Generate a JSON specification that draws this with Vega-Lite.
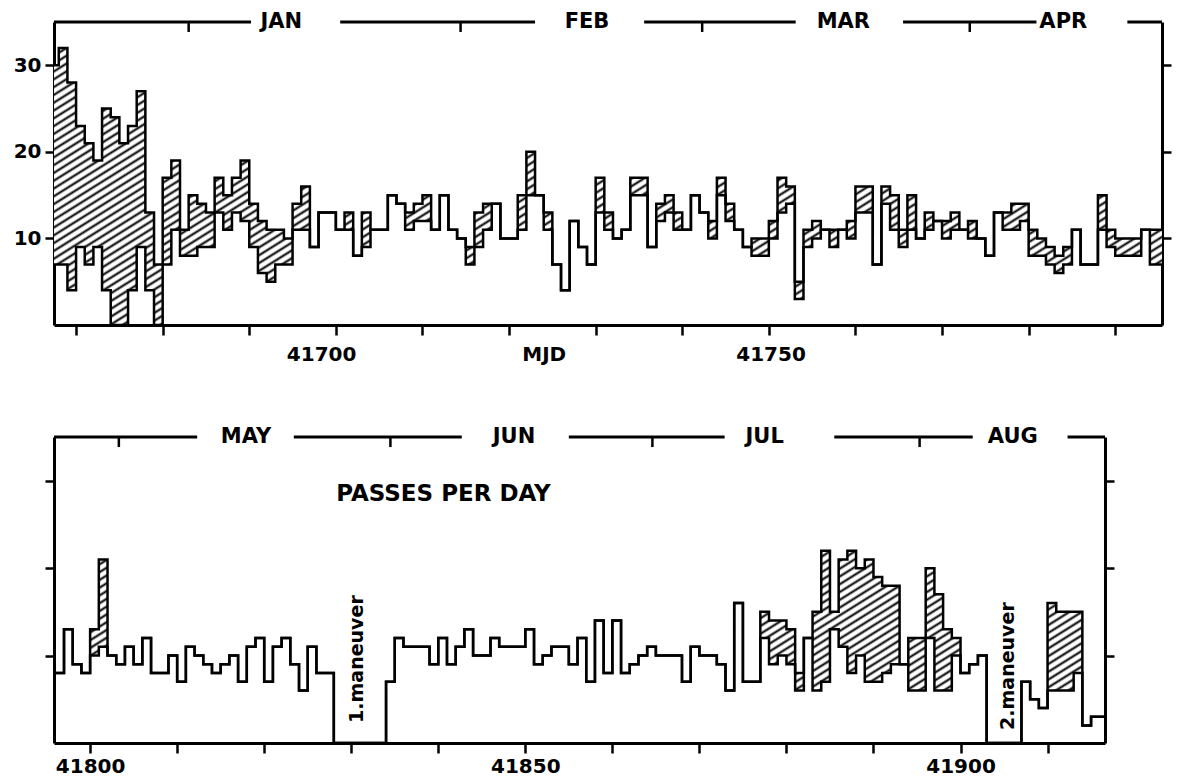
{
 "$schema": "https://vega.github.io/schema/vega-lite/v6.json",
 "background": "white",
 "padding": {"left": 13, "top": 11, "right": 5, "bottom": 0},
 "spacing": 62,
 "config": {
  "view": {"stroke": null},
  "font": "DejaVu Sans",
  "axis": {"domainColor": "black", "domainWidth": 3, "tickColor": "black", "tickWidth": 2.5, "tickSize": 9, "labelFont": "DejaVu Sans", "labelFontWeight": "bold", "labelFontSize": 20, "labelColor": "black", "grid": false, "title": null, "labelPadding": 4, "labelOverlap": false, "labelFlush": false}
 },
 "datasets": {
  "top": [
   {"mjd":41667,"lo":7,"hi":30},{"mjd":41668,"lo":7,"hi":32},{"mjd":41669,"lo":4,"hi":28},{"mjd":41670,"lo":9,"hi":23},{"mjd":41671,"lo":7,"hi":21},{"mjd":41672,"lo":9,"hi":19},{"mjd":41673,"lo":4,"hi":25},{"mjd":41674,"lo":0,"hi":24},{"mjd":41675,"lo":0,"hi":21},{"mjd":41676,"lo":4,"hi":23},{"mjd":41677,"lo":9,"hi":27},{"mjd":41678,"lo":4,"hi":13},{"mjd":41679,"lo":0,"hi":7},{"mjd":41680,"lo":7,"hi":17},{"mjd":41681,"lo":11,"hi":19},{"mjd":41682,"lo":8,"hi":11},{"mjd":41683,"lo":8,"hi":15},{"mjd":41684,"lo":9,"hi":14},{"mjd":41685,"lo":9,"hi":13},{"mjd":41686,"lo":13,"hi":17},{"mjd":41687,"lo":11,"hi":15},{"mjd":41688,"lo":13,"hi":17},{"mjd":41689,"lo":12,"hi":19},{"mjd":41690,"lo":9,"hi":14},{"mjd":41691,"lo":6,"hi":12},{"mjd":41692,"lo":5,"hi":11},{"mjd":41693,"lo":7,"hi":11},{"mjd":41694,"lo":7,"hi":10},{"mjd":41695,"lo":11,"hi":14},{"mjd":41696,"lo":11,"hi":16},{"mjd":41697,"lo":9,"hi":9},{"mjd":41698,"lo":13,"hi":13},{"mjd":41699,"lo":13,"hi":13},{"mjd":41700,"lo":11,"hi":11},{"mjd":41701,"lo":11,"hi":13},{"mjd":41702,"lo":8,"hi":8},{"mjd":41703,"lo":9,"hi":13},{"mjd":41704,"lo":11,"hi":11},{"mjd":41705,"lo":11,"hi":11},{"mjd":41706,"lo":15,"hi":15},{"mjd":41707,"lo":14,"hi":14},{"mjd":41708,"lo":11,"hi":13},{"mjd":41709,"lo":12,"hi":14},{"mjd":41710,"lo":12,"hi":15},{"mjd":41711,"lo":11,"hi":11},{"mjd":41712,"lo":15,"hi":15},{"mjd":41713,"lo":11,"hi":11},{"mjd":41714,"lo":10,"hi":10},{"mjd":41715,"lo":7,"hi":9},{"mjd":41716,"lo":9,"hi":13},{"mjd":41717,"lo":11,"hi":14},{"mjd":41718,"lo":14,"hi":14},{"mjd":41719,"lo":10,"hi":10},{"mjd":41720,"lo":10,"hi":10},{"mjd":41721,"lo":11,"hi":15},{"mjd":41722,"lo":15,"hi":20},{"mjd":41723,"lo":15,"hi":15},{"mjd":41724,"lo":11,"hi":13},{"mjd":41725,"lo":7,"hi":7},{"mjd":41726,"lo":4,"hi":4},{"mjd":41727,"lo":12,"hi":12},{"mjd":41728,"lo":9,"hi":9},{"mjd":41729,"lo":7,"hi":7},{"mjd":41730,"lo":13,"hi":17},{"mjd":41731,"lo":11,"hi":13},{"mjd":41732,"lo":10,"hi":10},{"mjd":41733,"lo":11,"hi":11},{"mjd":41734,"lo":15,"hi":17},{"mjd":41735,"lo":15,"hi":17},{"mjd":41736,"lo":9,"hi":9},{"mjd":41737,"lo":12,"hi":14},{"mjd":41738,"lo":13,"hi":15},{"mjd":41739,"lo":11,"hi":13},{"mjd":41740,"lo":11,"hi":11},{"mjd":41741,"lo":15,"hi":15},{"mjd":41742,"lo":13,"hi":13},{"mjd":41743,"lo":10,"hi":12},{"mjd":41744,"lo":15,"hi":17},{"mjd":41745,"lo":12,"hi":14},{"mjd":41746,"lo":11,"hi":11},{"mjd":41747,"lo":9,"hi":9},{"mjd":41748,"lo":8,"hi":10},{"mjd":41749,"lo":8,"hi":10},{"mjd":41750,"lo":10,"hi":12},{"mjd":41751,"lo":13,"hi":17},{"mjd":41752,"lo":14,"hi":16},{"mjd":41753,"lo":3,"hi":5},{"mjd":41754,"lo":9,"hi":11},{"mjd":41755,"lo":10,"hi":12},{"mjd":41756,"lo":11,"hi":11},{"mjd":41757,"lo":9,"hi":11},{"mjd":41758,"lo":11,"hi":11},{"mjd":41759,"lo":10,"hi":12},{"mjd":41760,"lo":13,"hi":16},{"mjd":41761,"lo":13,"hi":16},{"mjd":41762,"lo":7,"hi":7},{"mjd":41763,"lo":14,"hi":16},{"mjd":41764,"lo":11,"hi":15},{"mjd":41765,"lo":9,"hi":11},{"mjd":41766,"lo":11,"hi":15},{"mjd":41767,"lo":10,"hi":10},{"mjd":41768,"lo":11,"hi":13},{"mjd":41769,"lo":12,"hi":12},{"mjd":41770,"lo":10,"hi":12},{"mjd":41771,"lo":11,"hi":13},{"mjd":41772,"lo":11,"hi":11},{"mjd":41773,"lo":10,"hi":12},{"mjd":41774,"lo":10,"hi":10},{"mjd":41775,"lo":8,"hi":8},{"mjd":41776,"lo":13,"hi":13},{"mjd":41777,"lo":11,"hi":13},{"mjd":41778,"lo":11,"hi":14},{"mjd":41779,"lo":12,"hi":14},{"mjd":41780,"lo":8,"hi":11},{"mjd":41781,"lo":8,"hi":10},{"mjd":41782,"lo":7,"hi":9},{"mjd":41783,"lo":6,"hi":8},{"mjd":41784,"lo":7,"hi":9},{"mjd":41785,"lo":11,"hi":11},{"mjd":41786,"lo":7,"hi":7},{"mjd":41787,"lo":7,"hi":7},{"mjd":41788,"lo":11,"hi":15},{"mjd":41789,"lo":9,"hi":11},{"mjd":41790,"lo":8,"hi":10},{"mjd":41791,"lo":8,"hi":10},{"mjd":41792,"lo":8,"hi":10},{"mjd":41793,"lo":11,"hi":11},{"mjd":41794,"lo":7,"hi":11},{"mjd":41795,"lo":7,"hi":11},{"mjd":41796,"lo":7,"hi":11}
  ],
  "bottom": [
   {"mjd":41796,"lo":8,"hi":8},{"mjd":41797,"lo":13,"hi":13},{"mjd":41798,"lo":9,"hi":9},{"mjd":41799,"lo":8,"hi":8},{"mjd":41800,"lo":10,"hi":13},{"mjd":41801,"lo":11,"hi":21},{"mjd":41802,"lo":10,"hi":10},{"mjd":41803,"lo":9,"hi":9},{"mjd":41804,"lo":11,"hi":11},{"mjd":41805,"lo":9,"hi":9},{"mjd":41806,"lo":12,"hi":12},{"mjd":41807,"lo":8,"hi":8},{"mjd":41808,"lo":8,"hi":8},{"mjd":41809,"lo":10,"hi":10},{"mjd":41810,"lo":7,"hi":7},{"mjd":41811,"lo":11,"hi":11},{"mjd":41812,"lo":10,"hi":10},{"mjd":41813,"lo":9,"hi":9},{"mjd":41814,"lo":8,"hi":8},{"mjd":41815,"lo":9,"hi":9},{"mjd":41816,"lo":10,"hi":10},{"mjd":41817,"lo":7,"hi":7},{"mjd":41818,"lo":11,"hi":11},{"mjd":41819,"lo":12,"hi":12},{"mjd":41820,"lo":7,"hi":7},{"mjd":41821,"lo":11,"hi":11},{"mjd":41822,"lo":12,"hi":12},{"mjd":41823,"lo":9,"hi":9},{"mjd":41824,"lo":6,"hi":6},{"mjd":41825,"lo":11,"hi":11},{"mjd":41826,"lo":8,"hi":8},{"mjd":41827,"lo":8,"hi":8},{"mjd":41828,"lo":0,"hi":0},{"mjd":41829,"lo":0,"hi":0},{"mjd":41830,"lo":0,"hi":0},{"mjd":41831,"lo":0,"hi":0},{"mjd":41832,"lo":0,"hi":0},{"mjd":41833,"lo":0,"hi":0},{"mjd":41834,"lo":7,"hi":7},{"mjd":41835,"lo":12,"hi":12},{"mjd":41836,"lo":11,"hi":11},{"mjd":41837,"lo":11,"hi":11},{"mjd":41838,"lo":11,"hi":11},{"mjd":41839,"lo":9,"hi":9},{"mjd":41840,"lo":12,"hi":12},{"mjd":41841,"lo":9,"hi":9},{"mjd":41842,"lo":11,"hi":11},{"mjd":41843,"lo":13,"hi":13},{"mjd":41844,"lo":10,"hi":10},{"mjd":41845,"lo":10,"hi":10},{"mjd":41846,"lo":12,"hi":12},{"mjd":41847,"lo":11,"hi":11},{"mjd":41848,"lo":11,"hi":11},{"mjd":41849,"lo":11,"hi":11},{"mjd":41850,"lo":13,"hi":13},{"mjd":41851,"lo":9,"hi":9},{"mjd":41852,"lo":10,"hi":10},{"mjd":41853,"lo":11,"hi":11},{"mjd":41854,"lo":11,"hi":11},{"mjd":41855,"lo":9,"hi":9},{"mjd":41856,"lo":12,"hi":12},{"mjd":41857,"lo":7,"hi":7},{"mjd":41858,"lo":14,"hi":14},{"mjd":41859,"lo":8,"hi":8},{"mjd":41860,"lo":14,"hi":14},{"mjd":41861,"lo":8,"hi":8},{"mjd":41862,"lo":9,"hi":9},{"mjd":41863,"lo":10,"hi":10},{"mjd":41864,"lo":11,"hi":11},{"mjd":41865,"lo":10,"hi":10},{"mjd":41866,"lo":10,"hi":10},{"mjd":41867,"lo":10,"hi":10},{"mjd":41868,"lo":7,"hi":7},{"mjd":41869,"lo":11,"hi":11},{"mjd":41870,"lo":10,"hi":10},{"mjd":41871,"lo":10,"hi":10},{"mjd":41872,"lo":9,"hi":9},{"mjd":41873,"lo":6,"hi":6},{"mjd":41874,"lo":16,"hi":16},{"mjd":41875,"lo":7,"hi":7},{"mjd":41876,"lo":7,"hi":7},{"mjd":41877,"lo":12,"hi":15},{"mjd":41878,"lo":9,"hi":14},{"mjd":41879,"lo":10,"hi":14},{"mjd":41880,"lo":9,"hi":13},{"mjd":41881,"lo":6,"hi":8},{"mjd":41882,"lo":12,"hi":12},{"mjd":41883,"lo":6,"hi":15},{"mjd":41884,"lo":7,"hi":22},{"mjd":41885,"lo":13,"hi":15},{"mjd":41886,"lo":11,"hi":21},{"mjd":41887,"lo":8,"hi":22},{"mjd":41888,"lo":10,"hi":20},{"mjd":41889,"lo":7,"hi":21},{"mjd":41890,"lo":7,"hi":19},{"mjd":41891,"lo":8,"hi":18},{"mjd":41892,"lo":9,"hi":18},{"mjd":41893,"lo":9,"hi":9},{"mjd":41894,"lo":6,"hi":12},{"mjd":41895,"lo":6,"hi":12},{"mjd":41896,"lo":12,"hi":20},{"mjd":41897,"lo":6,"hi":17},{"mjd":41898,"lo":6,"hi":13},{"mjd":41899,"lo":10,"hi":12},{"mjd":41900,"lo":8,"hi":8},{"mjd":41901,"lo":9,"hi":9},{"mjd":41902,"lo":10,"hi":10},{"mjd":41903,"lo":0,"hi":0},{"mjd":41904,"lo":0,"hi":0},{"mjd":41905,"lo":0,"hi":0},{"mjd":41906,"lo":0,"hi":0},{"mjd":41907,"lo":7,"hi":7},{"mjd":41908,"lo":5,"hi":5},{"mjd":41909,"lo":4,"hi":4},{"mjd":41910,"lo":6,"hi":16},{"mjd":41911,"lo":6,"hi":15},{"mjd":41912,"lo":6,"hi":15},{"mjd":41913,"lo":8,"hi":15},{"mjd":41914,"lo":2,"hi":2},{"mjd":41915,"lo":3,"hi":3},{"mjd":41916,"lo":3,"hi":3},{"mjd":41917,"lo":3,"hi":3}
  ],
  "topseg": [{"mjd":41667.45,"mjd2":41690.2},{"mjd":41700.5,"mjd2":41723.0},{"mjd":41735.6,"mjd2":41753.1},{"mjd":41765.5,"mjd2":41780.9},{"mjd":41791.4,"mjd2":41795.4}],
  "topmt": [{"mjd":41683},{"mjd":41714.4},{"mjd":41742.3},{"mjd":41773.2}],
  "topmon": [{"m":"JAN","mjd":41693.7},{"m":"FEB","mjd":41729.0},{"m":"MAR","mjd":41758.6},{"m":"APR","mjd":41784.0}],
  "botseg": [{"mjd":41795.85,"mjd2":41812.3},{"mjd":41823.4,"mjd2":41842.7},{"mjd":41855.0,"mjd2":41872.9},{"mjd":41885.5,"mjd2":41901.4},{"mjd":41912.3,"mjd2":41916.6}],
  "botmt": [{"mjd":41803.3},{"mjd":41834.5},{"mjd":41864.6},{"mjd":41895.3}],
  "botmon": [{"m":"MAY","mjd":41817.9},{"m":"JUN","mjd":41848.7},{"m":"JUL","mjd":41877.5},{"m":"AUG","mjd":41906.0}],
  "note": [{"t":"PASSES PER DAY","mjd":41840.6,"v":28.5}],
  "man": [{"t":"1.maneuver","mjd":41830.7,"v":9.6},{"t":"2.maneuver","mjd":41905.4,"v":8.8}]
 },
 "vconcat": [
  {
   "width": 1108,
   "height": 303,
   "resolve": {"axis": {"x": "independent", "y": "independent"}},
   "layer": [
    {
     "data": {"name": "top"},
     "mark": {"type": "area", "interpolate": "step-after", "clip": true, "fill": {"gradient": "linear", "x1": 0, "y1": 0, "x2": 1.2066, "y2": 0.4786, "stops": [
{"offset":0,"color":"#fff"},
{"offset":0.0025,"color":"#000"},{"offset":0.005,"color":"#fff"},{"offset":0.008,"color":"#fff"},
{"offset":0.0105,"color":"#000"},{"offset":0.013,"color":"#fff"},{"offset":0.016,"color":"#fff"},
{"offset":0.0185,"color":"#000"},{"offset":0.021,"color":"#fff"},{"offset":0.024,"color":"#fff"},
{"offset":0.0265,"color":"#000"},{"offset":0.029,"color":"#fff"},{"offset":0.032,"color":"#fff"},
{"offset":0.0345,"color":"#000"},{"offset":0.037,"color":"#fff"},{"offset":0.040,"color":"#fff"},
{"offset":0.0425,"color":"#000"},{"offset":0.045,"color":"#fff"},{"offset":0.048,"color":"#fff"},
{"offset":0.0505,"color":"#000"},{"offset":0.053,"color":"#fff"},{"offset":0.056,"color":"#fff"},
{"offset":0.0585,"color":"#000"},{"offset":0.061,"color":"#fff"},{"offset":0.064,"color":"#fff"},
{"offset":0.0665,"color":"#000"},{"offset":0.069,"color":"#fff"},{"offset":0.072,"color":"#fff"},
{"offset":0.0745,"color":"#000"},{"offset":0.077,"color":"#fff"},{"offset":0.080,"color":"#fff"},
{"offset":0.0825,"color":"#000"},{"offset":0.085,"color":"#fff"},{"offset":0.088,"color":"#fff"},
{"offset":0.0905,"color":"#000"},{"offset":0.093,"color":"#fff"},{"offset":0.096,"color":"#fff"},
{"offset":0.0985,"color":"#000"},{"offset":0.101,"color":"#fff"},{"offset":0.104,"color":"#fff"},
{"offset":0.1065,"color":"#000"},{"offset":0.109,"color":"#fff"},{"offset":0.112,"color":"#fff"},
{"offset":0.1145,"color":"#000"},{"offset":0.117,"color":"#fff"},{"offset":0.120,"color":"#fff"},
{"offset":0.1225,"color":"#000"},{"offset":0.125,"color":"#fff"},{"offset":0.128,"color":"#fff"},
{"offset":0.1305,"color":"#000"},{"offset":0.133,"color":"#fff"},{"offset":0.136,"color":"#fff"},
{"offset":0.1385,"color":"#000"},{"offset":0.141,"color":"#fff"},{"offset":0.144,"color":"#fff"},
{"offset":0.1465,"color":"#000"},{"offset":0.149,"color":"#fff"},{"offset":0.152,"color":"#fff"},
{"offset":0.1545,"color":"#000"},{"offset":0.157,"color":"#fff"},{"offset":0.160,"color":"#fff"},
{"offset":0.1625,"color":"#000"},{"offset":0.165,"color":"#fff"},{"offset":0.168,"color":"#fff"},
{"offset":0.1705,"color":"#000"},{"offset":0.173,"color":"#fff"},{"offset":0.176,"color":"#fff"},
{"offset":0.1785,"color":"#000"},{"offset":0.181,"color":"#fff"},{"offset":0.184,"color":"#fff"},
{"offset":0.1865,"color":"#000"},{"offset":0.189,"color":"#fff"},{"offset":0.192,"color":"#fff"},
{"offset":0.1945,"color":"#000"},{"offset":0.197,"color":"#fff"},{"offset":0.200,"color":"#fff"},
{"offset":0.2025,"color":"#000"},{"offset":0.205,"color":"#fff"},{"offset":0.208,"color":"#fff"},
{"offset":0.2105,"color":"#000"},{"offset":0.213,"color":"#fff"},{"offset":0.216,"color":"#fff"},
{"offset":0.2185,"color":"#000"},{"offset":0.221,"color":"#fff"},{"offset":0.224,"color":"#fff"},
{"offset":0.2265,"color":"#000"},{"offset":0.229,"color":"#fff"},{"offset":0.232,"color":"#fff"},
{"offset":0.2345,"color":"#000"},{"offset":0.237,"color":"#fff"},{"offset":0.240,"color":"#fff"},
{"offset":0.2425,"color":"#000"},{"offset":0.245,"color":"#fff"},{"offset":0.248,"color":"#fff"},
{"offset":0.2505,"color":"#000"},{"offset":0.253,"color":"#fff"},{"offset":0.256,"color":"#fff"},
{"offset":0.2585,"color":"#000"},{"offset":0.261,"color":"#fff"},{"offset":0.264,"color":"#fff"},
{"offset":0.2665,"color":"#000"},{"offset":0.269,"color":"#fff"},{"offset":0.272,"color":"#fff"},
{"offset":0.2745,"color":"#000"},{"offset":0.277,"color":"#fff"},{"offset":0.280,"color":"#fff"},
{"offset":0.2825,"color":"#000"},{"offset":0.285,"color":"#fff"},{"offset":0.288,"color":"#fff"},
{"offset":0.2905,"color":"#000"},{"offset":0.293,"color":"#fff"},{"offset":0.296,"color":"#fff"},
{"offset":0.2985,"color":"#000"},{"offset":0.301,"color":"#fff"},{"offset":0.304,"color":"#fff"},
{"offset":0.3065,"color":"#000"},{"offset":0.309,"color":"#fff"},{"offset":0.312,"color":"#fff"},
{"offset":0.3145,"color":"#000"},{"offset":0.317,"color":"#fff"},{"offset":0.320,"color":"#fff"},
{"offset":0.3225,"color":"#000"},{"offset":0.325,"color":"#fff"},{"offset":0.328,"color":"#fff"},
{"offset":0.3305,"color":"#000"},{"offset":0.333,"color":"#fff"},{"offset":0.336,"color":"#fff"},
{"offset":0.3385,"color":"#000"},{"offset":0.341,"color":"#fff"},{"offset":0.344,"color":"#fff"},
{"offset":0.3465,"color":"#000"},{"offset":0.349,"color":"#fff"},{"offset":0.352,"color":"#fff"},
{"offset":0.3545,"color":"#000"},{"offset":0.357,"color":"#fff"},{"offset":0.360,"color":"#fff"},
{"offset":0.3625,"color":"#000"},{"offset":0.365,"color":"#fff"},{"offset":0.368,"color":"#fff"},
{"offset":0.3705,"color":"#000"},{"offset":0.373,"color":"#fff"},{"offset":0.376,"color":"#fff"},
{"offset":0.3785,"color":"#000"},{"offset":0.381,"color":"#fff"},{"offset":0.384,"color":"#fff"},
{"offset":0.3865,"color":"#000"},{"offset":0.389,"color":"#fff"},{"offset":0.392,"color":"#fff"},
{"offset":0.3945,"color":"#000"},{"offset":0.397,"color":"#fff"},{"offset":0.400,"color":"#fff"},
{"offset":0.4025,"color":"#000"},{"offset":0.405,"color":"#fff"},{"offset":0.408,"color":"#fff"},
{"offset":0.4105,"color":"#000"},{"offset":0.413,"color":"#fff"},{"offset":0.416,"color":"#fff"},
{"offset":0.4185,"color":"#000"},{"offset":0.421,"color":"#fff"},{"offset":0.424,"color":"#fff"},
{"offset":0.4265,"color":"#000"},{"offset":0.429,"color":"#fff"},{"offset":0.432,"color":"#fff"},
{"offset":0.4345,"color":"#000"},{"offset":0.437,"color":"#fff"},{"offset":0.440,"color":"#fff"},
{"offset":0.4425,"color":"#000"},{"offset":0.445,"color":"#fff"},{"offset":0.448,"color":"#fff"},
{"offset":0.4505,"color":"#000"},{"offset":0.453,"color":"#fff"},{"offset":0.456,"color":"#fff"},
{"offset":0.4585,"color":"#000"},{"offset":0.461,"color":"#fff"},{"offset":0.464,"color":"#fff"},
{"offset":0.4665,"color":"#000"},{"offset":0.469,"color":"#fff"},{"offset":0.472,"color":"#fff"},
{"offset":0.4745,"color":"#000"},{"offset":0.477,"color":"#fff"},{"offset":0.480,"color":"#fff"},
{"offset":0.4825,"color":"#000"},{"offset":0.485,"color":"#fff"},{"offset":0.488,"color":"#fff"},
{"offset":0.4905,"color":"#000"},{"offset":0.493,"color":"#fff"},{"offset":0.496,"color":"#fff"},
{"offset":0.4985,"color":"#000"},{"offset":0.501,"color":"#fff"},{"offset":0.504,"color":"#fff"},
{"offset":0.5065,"color":"#000"},{"offset":0.509,"color":"#fff"},{"offset":0.512,"color":"#fff"},
{"offset":0.5145,"color":"#000"},{"offset":0.517,"color":"#fff"},{"offset":0.520,"color":"#fff"},
{"offset":0.5225,"color":"#000"},{"offset":0.525,"color":"#fff"},{"offset":0.528,"color":"#fff"},
{"offset":0.5305,"color":"#000"},{"offset":0.533,"color":"#fff"},{"offset":0.536,"color":"#fff"},
{"offset":0.5385,"color":"#000"},{"offset":0.541,"color":"#fff"},{"offset":0.544,"color":"#fff"},
{"offset":0.5465,"color":"#000"},{"offset":0.549,"color":"#fff"},{"offset":0.552,"color":"#fff"},
{"offset":0.5545,"color":"#000"},{"offset":0.557,"color":"#fff"},{"offset":0.560,"color":"#fff"},
{"offset":0.5625,"color":"#000"},{"offset":0.565,"color":"#fff"},{"offset":0.568,"color":"#fff"},
{"offset":0.5705,"color":"#000"},{"offset":0.573,"color":"#fff"},{"offset":0.576,"color":"#fff"},
{"offset":0.5785,"color":"#000"},{"offset":0.581,"color":"#fff"},{"offset":0.584,"color":"#fff"},
{"offset":0.5865,"color":"#000"},{"offset":0.589,"color":"#fff"},{"offset":0.592,"color":"#fff"},
{"offset":0.5945,"color":"#000"},{"offset":0.597,"color":"#fff"},{"offset":0.600,"color":"#fff"},
{"offset":0.6025,"color":"#000"},{"offset":0.605,"color":"#fff"},{"offset":0.608,"color":"#fff"},
{"offset":0.6105,"color":"#000"},{"offset":0.613,"color":"#fff"},{"offset":0.616,"color":"#fff"},
{"offset":0.6185,"color":"#000"},{"offset":0.621,"color":"#fff"},{"offset":0.624,"color":"#fff"},
{"offset":0.6265,"color":"#000"},{"offset":0.629,"color":"#fff"},{"offset":0.632,"color":"#fff"},
{"offset":0.6345,"color":"#000"},{"offset":0.637,"color":"#fff"},{"offset":0.640,"color":"#fff"},
{"offset":0.6425,"color":"#000"},{"offset":0.645,"color":"#fff"},{"offset":0.648,"color":"#fff"},
{"offset":0.6505,"color":"#000"},{"offset":0.653,"color":"#fff"},{"offset":0.656,"color":"#fff"},
{"offset":0.6585,"color":"#000"},{"offset":0.661,"color":"#fff"},{"offset":0.664,"color":"#fff"},
{"offset":0.6665,"color":"#000"},{"offset":0.669,"color":"#fff"},{"offset":0.672,"color":"#fff"},
{"offset":0.6745,"color":"#000"},{"offset":0.677,"color":"#fff"},{"offset":0.680,"color":"#fff"},
{"offset":0.6825,"color":"#000"},{"offset":0.685,"color":"#fff"},{"offset":0.688,"color":"#fff"},
{"offset":0.6905,"color":"#000"},{"offset":0.693,"color":"#fff"},{"offset":0.696,"color":"#fff"},
{"offset":0.6985,"color":"#000"},{"offset":0.701,"color":"#fff"},{"offset":0.704,"color":"#fff"},
{"offset":0.7065,"color":"#000"},{"offset":0.709,"color":"#fff"},{"offset":0.712,"color":"#fff"},
{"offset":0.7145,"color":"#000"},{"offset":0.717,"color":"#fff"},{"offset":0.720,"color":"#fff"},
{"offset":0.7225,"color":"#000"},{"offset":0.725,"color":"#fff"},{"offset":0.728,"color":"#fff"},
{"offset":0.7305,"color":"#000"},{"offset":0.733,"color":"#fff"},{"offset":0.736,"color":"#fff"},
{"offset":0.7385,"color":"#000"},{"offset":0.741,"color":"#fff"},{"offset":0.744,"color":"#fff"},
{"offset":0.7465,"color":"#000"},{"offset":0.749,"color":"#fff"},{"offset":0.752,"color":"#fff"},
{"offset":0.7545,"color":"#000"},{"offset":0.757,"color":"#fff"},{"offset":0.760,"color":"#fff"},
{"offset":0.7625,"color":"#000"},{"offset":0.765,"color":"#fff"},{"offset":0.768,"color":"#fff"},
{"offset":0.7705,"color":"#000"},{"offset":0.773,"color":"#fff"},{"offset":0.776,"color":"#fff"},
{"offset":0.7785,"color":"#000"},{"offset":0.781,"color":"#fff"},{"offset":0.784,"color":"#fff"},
{"offset":0.7865,"color":"#000"},{"offset":0.789,"color":"#fff"},{"offset":0.792,"color":"#fff"},
{"offset":0.7945,"color":"#000"},{"offset":0.797,"color":"#fff"},{"offset":0.800,"color":"#fff"},
{"offset":0.8025,"color":"#000"},{"offset":0.805,"color":"#fff"},{"offset":0.808,"color":"#fff"},
{"offset":0.8105,"color":"#000"},{"offset":0.813,"color":"#fff"},{"offset":0.816,"color":"#fff"},
{"offset":0.8185,"color":"#000"},{"offset":0.821,"color":"#fff"},{"offset":0.824,"color":"#fff"},
{"offset":0.8265,"color":"#000"},{"offset":0.829,"color":"#fff"},{"offset":0.832,"color":"#fff"},
{"offset":0.8345,"color":"#000"},{"offset":0.837,"color":"#fff"},{"offset":0.840,"color":"#fff"},
{"offset":0.8425,"color":"#000"},{"offset":0.845,"color":"#fff"},{"offset":0.848,"color":"#fff"},
{"offset":0.8505,"color":"#000"},{"offset":0.853,"color":"#fff"},{"offset":0.856,"color":"#fff"},
{"offset":0.8585,"color":"#000"},{"offset":0.861,"color":"#fff"},{"offset":0.864,"color":"#fff"},
{"offset":0.8665,"color":"#000"},{"offset":0.869,"color":"#fff"},{"offset":0.872,"color":"#fff"},
{"offset":0.8745,"color":"#000"},{"offset":0.877,"color":"#fff"},{"offset":0.880,"color":"#fff"},
{"offset":0.8825,"color":"#000"},{"offset":0.885,"color":"#fff"},{"offset":0.888,"color":"#fff"},
{"offset":0.8905,"color":"#000"},{"offset":0.893,"color":"#fff"},{"offset":0.896,"color":"#fff"},
{"offset":0.8985,"color":"#000"},{"offset":0.901,"color":"#fff"},{"offset":0.904,"color":"#fff"},
{"offset":0.9065,"color":"#000"},{"offset":0.909,"color":"#fff"},{"offset":0.912,"color":"#fff"},
{"offset":0.9145,"color":"#000"},{"offset":0.917,"color":"#fff"},{"offset":0.920,"color":"#fff"},
{"offset":0.9225,"color":"#000"},{"offset":0.925,"color":"#fff"},{"offset":0.928,"color":"#fff"},
{"offset":0.9305,"color":"#000"},{"offset":0.933,"color":"#fff"},{"offset":0.936,"color":"#fff"},
{"offset":0.9385,"color":"#000"},{"offset":0.941,"color":"#fff"},{"offset":0.944,"color":"#fff"},
{"offset":0.9465,"color":"#000"},{"offset":0.949,"color":"#fff"},{"offset":0.952,"color":"#fff"},
{"offset":0.9545,"color":"#000"},{"offset":0.957,"color":"#fff"},{"offset":0.960,"color":"#fff"},
{"offset":0.9625,"color":"#000"},{"offset":0.965,"color":"#fff"},{"offset":0.968,"color":"#fff"},
{"offset":0.9705,"color":"#000"},{"offset":0.973,"color":"#fff"},{"offset":0.976,"color":"#fff"},
{"offset":0.9785,"color":"#000"},{"offset":0.981,"color":"#fff"},{"offset":0.984,"color":"#fff"},
{"offset":0.9865,"color":"#000"},{"offset":0.989,"color":"#fff"},{"offset":0.992,"color":"#fff"},
{"offset":0.9945,"color":"#000"},{"offset":0.997,"color":"#fff"},{"offset":1,"color":"#fff"}
]}},
     "encoding": {
      "x": {"field": "mjd", "type": "quantitative", "scale": {"domain": [41667.45, 41795.4], "nice": false, "zero": false}, "axis": {"orient": "bottom", "values": [41670,41680,41690,41700,41710,41720,41730,41740,41750,41760,41770,41780,41790], "labels": false, "tickSize": 10}},
      "y": {"field": "lo", "type": "quantitative", "scale": {"domain": [0, 35], "nice": false}, "axis": {"orient": "left", "values": [10, 20, 30]}},
      "y2": {"field": "hi"}
     }
    },
    {
     "data": {"name": "top"},
     "mark": {"type": "line", "interpolate": "step-after", "stroke": "black", "strokeWidth": 2.5, "clip": true},
     "encoding": {
      "x": {"field": "mjd", "type": "quantitative", "scale": {"domain": [41667.45, 41795.4], "nice": false, "zero": false}, "axis": {"orient": "bottom", "values": [41698.3, 41724, 41750.2], "labelExpr": "datum.value < 41710 ? '41700' : (datum.value < 41740 ? 'MJD' : '41750')", "ticks": false, "tickSize": 0, "domain": false, "labelPadding": 19}},
      "y": {"field": "lo", "type": "quantitative", "scale": {"domain": [0, 35], "nice": false}, "axis": {"orient": "right", "values": [10, 20, 30], "labels": false}}
     }
    },
    {
     "data": {"name": "top"},
     "mark": {"type": "line", "interpolate": "step-after", "stroke": "black", "strokeWidth": 2.5, "clip": true},
     "encoding": {
      "x": {"field": "mjd", "type": "quantitative", "scale": {"domain": [41667.45, 41795.4], "nice": false, "zero": false}, "axis": null},
      "y": {"field": "hi", "type": "quantitative", "scale": {"domain": [0, 35], "nice": false}, "axis": null}
     }
    },
    {
     "data": {"name": "topseg"},
     "mark": {"type": "rule", "stroke": "black", "strokeWidth": 3},
     "encoding": {
      "x": {"field": "mjd", "type": "quantitative", "axis": null},
      "x2": {"field": "mjd2"},
      "y": {"datum": 35, "type": "quantitative", "axis": null}
     }
    },
    {
     "data": {"name": "topmt"},
     "mark": {"type": "rule", "stroke": "black", "strokeWidth": 2.5},
     "encoding": {
      "x": {"field": "mjd", "type": "quantitative", "axis": null},
      "y": {"datum": 35, "type": "quantitative", "axis": null},
      "y2": {"datum": 33.85}
     }
    },
    {
     "data": {"name": "topmon"},
     "mark": {"type": "text", "font": "DejaVu Sans", "fontWeight": "bold", "fontSize": 21, "align": "center", "baseline": "middle", "fill": "black"},
     "encoding": {
      "x": {"field": "mjd", "type": "quantitative", "axis": null},
      "y": {"datum": 35, "type": "quantitative", "axis": null},
      "text": {"field": "m"}
     }
    }
   ]
  },
  {
   "width": 1051,
   "height": 306,
   "resolve": {"axis": {"x": "independent", "y": "independent"}},
   "layer": [
    {
     "data": {"name": "bottom"},
     "mark": {"type": "area", "interpolate": "step-after", "clip": true, "fill": {"gradient": "linear", "x1": 0, "y1": 0, "x2": 1.3617, "y2": 0.3979, "stops": [
{"offset":0,"color":"#fff"},
{"offset":0.0025,"color":"#000"},{"offset":0.005,"color":"#fff"},{"offset":0.008,"color":"#fff"},
{"offset":0.0105,"color":"#000"},{"offset":0.013,"color":"#fff"},{"offset":0.016,"color":"#fff"},
{"offset":0.0185,"color":"#000"},{"offset":0.021,"color":"#fff"},{"offset":0.024,"color":"#fff"},
{"offset":0.0265,"color":"#000"},{"offset":0.029,"color":"#fff"},{"offset":0.032,"color":"#fff"},
{"offset":0.0345,"color":"#000"},{"offset":0.037,"color":"#fff"},{"offset":0.040,"color":"#fff"},
{"offset":0.0425,"color":"#000"},{"offset":0.045,"color":"#fff"},{"offset":0.048,"color":"#fff"},
{"offset":0.0505,"color":"#000"},{"offset":0.053,"color":"#fff"},{"offset":0.056,"color":"#fff"},
{"offset":0.0585,"color":"#000"},{"offset":0.061,"color":"#fff"},{"offset":0.064,"color":"#fff"},
{"offset":0.0665,"color":"#000"},{"offset":0.069,"color":"#fff"},{"offset":0.072,"color":"#fff"},
{"offset":0.0745,"color":"#000"},{"offset":0.077,"color":"#fff"},{"offset":0.080,"color":"#fff"},
{"offset":0.0825,"color":"#000"},{"offset":0.085,"color":"#fff"},{"offset":0.088,"color":"#fff"},
{"offset":0.0905,"color":"#000"},{"offset":0.093,"color":"#fff"},{"offset":0.096,"color":"#fff"},
{"offset":0.0985,"color":"#000"},{"offset":0.101,"color":"#fff"},{"offset":0.104,"color":"#fff"},
{"offset":0.1065,"color":"#000"},{"offset":0.109,"color":"#fff"},{"offset":0.112,"color":"#fff"},
{"offset":0.1145,"color":"#000"},{"offset":0.117,"color":"#fff"},{"offset":0.120,"color":"#fff"},
{"offset":0.1225,"color":"#000"},{"offset":0.125,"color":"#fff"},{"offset":0.128,"color":"#fff"},
{"offset":0.1305,"color":"#000"},{"offset":0.133,"color":"#fff"},{"offset":0.136,"color":"#fff"},
{"offset":0.1385,"color":"#000"},{"offset":0.141,"color":"#fff"},{"offset":0.144,"color":"#fff"},
{"offset":0.1465,"color":"#000"},{"offset":0.149,"color":"#fff"},{"offset":0.152,"color":"#fff"},
{"offset":0.1545,"color":"#000"},{"offset":0.157,"color":"#fff"},{"offset":0.160,"color":"#fff"},
{"offset":0.1625,"color":"#000"},{"offset":0.165,"color":"#fff"},{"offset":0.168,"color":"#fff"},
{"offset":0.1705,"color":"#000"},{"offset":0.173,"color":"#fff"},{"offset":0.176,"color":"#fff"},
{"offset":0.1785,"color":"#000"},{"offset":0.181,"color":"#fff"},{"offset":0.184,"color":"#fff"},
{"offset":0.1865,"color":"#000"},{"offset":0.189,"color":"#fff"},{"offset":0.192,"color":"#fff"},
{"offset":0.1945,"color":"#000"},{"offset":0.197,"color":"#fff"},{"offset":0.200,"color":"#fff"},
{"offset":0.2025,"color":"#000"},{"offset":0.205,"color":"#fff"},{"offset":0.208,"color":"#fff"},
{"offset":0.2105,"color":"#000"},{"offset":0.213,"color":"#fff"},{"offset":0.216,"color":"#fff"},
{"offset":0.2185,"color":"#000"},{"offset":0.221,"color":"#fff"},{"offset":0.224,"color":"#fff"},
{"offset":0.2265,"color":"#000"},{"offset":0.229,"color":"#fff"},{"offset":0.232,"color":"#fff"},
{"offset":0.2345,"color":"#000"},{"offset":0.237,"color":"#fff"},{"offset":0.240,"color":"#fff"},
{"offset":0.2425,"color":"#000"},{"offset":0.245,"color":"#fff"},{"offset":0.248,"color":"#fff"},
{"offset":0.2505,"color":"#000"},{"offset":0.253,"color":"#fff"},{"offset":0.256,"color":"#fff"},
{"offset":0.2585,"color":"#000"},{"offset":0.261,"color":"#fff"},{"offset":0.264,"color":"#fff"},
{"offset":0.2665,"color":"#000"},{"offset":0.269,"color":"#fff"},{"offset":0.272,"color":"#fff"},
{"offset":0.2745,"color":"#000"},{"offset":0.277,"color":"#fff"},{"offset":0.280,"color":"#fff"},
{"offset":0.2825,"color":"#000"},{"offset":0.285,"color":"#fff"},{"offset":0.288,"color":"#fff"},
{"offset":0.2905,"color":"#000"},{"offset":0.293,"color":"#fff"},{"offset":0.296,"color":"#fff"},
{"offset":0.2985,"color":"#000"},{"offset":0.301,"color":"#fff"},{"offset":0.304,"color":"#fff"},
{"offset":0.3065,"color":"#000"},{"offset":0.309,"color":"#fff"},{"offset":0.312,"color":"#fff"},
{"offset":0.3145,"color":"#000"},{"offset":0.317,"color":"#fff"},{"offset":0.320,"color":"#fff"},
{"offset":0.3225,"color":"#000"},{"offset":0.325,"color":"#fff"},{"offset":0.328,"color":"#fff"},
{"offset":0.3305,"color":"#000"},{"offset":0.333,"color":"#fff"},{"offset":0.336,"color":"#fff"},
{"offset":0.3385,"color":"#000"},{"offset":0.341,"color":"#fff"},{"offset":0.344,"color":"#fff"},
{"offset":0.3465,"color":"#000"},{"offset":0.349,"color":"#fff"},{"offset":0.352,"color":"#fff"},
{"offset":0.3545,"color":"#000"},{"offset":0.357,"color":"#fff"},{"offset":0.360,"color":"#fff"},
{"offset":0.3625,"color":"#000"},{"offset":0.365,"color":"#fff"},{"offset":0.368,"color":"#fff"},
{"offset":0.3705,"color":"#000"},{"offset":0.373,"color":"#fff"},{"offset":0.376,"color":"#fff"},
{"offset":0.3785,"color":"#000"},{"offset":0.381,"color":"#fff"},{"offset":0.384,"color":"#fff"},
{"offset":0.3865,"color":"#000"},{"offset":0.389,"color":"#fff"},{"offset":0.392,"color":"#fff"},
{"offset":0.3945,"color":"#000"},{"offset":0.397,"color":"#fff"},{"offset":0.400,"color":"#fff"},
{"offset":0.4025,"color":"#000"},{"offset":0.405,"color":"#fff"},{"offset":0.408,"color":"#fff"},
{"offset":0.4105,"color":"#000"},{"offset":0.413,"color":"#fff"},{"offset":0.416,"color":"#fff"},
{"offset":0.4185,"color":"#000"},{"offset":0.421,"color":"#fff"},{"offset":0.424,"color":"#fff"},
{"offset":0.4265,"color":"#000"},{"offset":0.429,"color":"#fff"},{"offset":0.432,"color":"#fff"},
{"offset":0.4345,"color":"#000"},{"offset":0.437,"color":"#fff"},{"offset":0.440,"color":"#fff"},
{"offset":0.4425,"color":"#000"},{"offset":0.445,"color":"#fff"},{"offset":0.448,"color":"#fff"},
{"offset":0.4505,"color":"#000"},{"offset":0.453,"color":"#fff"},{"offset":0.456,"color":"#fff"},
{"offset":0.4585,"color":"#000"},{"offset":0.461,"color":"#fff"},{"offset":0.464,"color":"#fff"},
{"offset":0.4665,"color":"#000"},{"offset":0.469,"color":"#fff"},{"offset":0.472,"color":"#fff"},
{"offset":0.4745,"color":"#000"},{"offset":0.477,"color":"#fff"},{"offset":0.480,"color":"#fff"},
{"offset":0.4825,"color":"#000"},{"offset":0.485,"color":"#fff"},{"offset":0.488,"color":"#fff"},
{"offset":0.4905,"color":"#000"},{"offset":0.493,"color":"#fff"},{"offset":0.496,"color":"#fff"},
{"offset":0.4985,"color":"#000"},{"offset":0.501,"color":"#fff"},{"offset":0.504,"color":"#fff"},
{"offset":0.5065,"color":"#000"},{"offset":0.509,"color":"#fff"},{"offset":0.512,"color":"#fff"},
{"offset":0.5145,"color":"#000"},{"offset":0.517,"color":"#fff"},{"offset":0.520,"color":"#fff"},
{"offset":0.5225,"color":"#000"},{"offset":0.525,"color":"#fff"},{"offset":0.528,"color":"#fff"},
{"offset":0.5305,"color":"#000"},{"offset":0.533,"color":"#fff"},{"offset":0.536,"color":"#fff"},
{"offset":0.5385,"color":"#000"},{"offset":0.541,"color":"#fff"},{"offset":0.544,"color":"#fff"},
{"offset":0.5465,"color":"#000"},{"offset":0.549,"color":"#fff"},{"offset":0.552,"color":"#fff"},
{"offset":0.5545,"color":"#000"},{"offset":0.557,"color":"#fff"},{"offset":0.560,"color":"#fff"},
{"offset":0.5625,"color":"#000"},{"offset":0.565,"color":"#fff"},{"offset":0.568,"color":"#fff"},
{"offset":0.5705,"color":"#000"},{"offset":0.573,"color":"#fff"},{"offset":0.576,"color":"#fff"},
{"offset":0.5785,"color":"#000"},{"offset":0.581,"color":"#fff"},{"offset":0.584,"color":"#fff"},
{"offset":0.5865,"color":"#000"},{"offset":0.589,"color":"#fff"},{"offset":0.592,"color":"#fff"},
{"offset":0.5945,"color":"#000"},{"offset":0.597,"color":"#fff"},{"offset":0.600,"color":"#fff"},
{"offset":0.6025,"color":"#000"},{"offset":0.605,"color":"#fff"},{"offset":0.608,"color":"#fff"},
{"offset":0.6105,"color":"#000"},{"offset":0.613,"color":"#fff"},{"offset":0.616,"color":"#fff"},
{"offset":0.6185,"color":"#000"},{"offset":0.621,"color":"#fff"},{"offset":0.624,"color":"#fff"},
{"offset":0.6265,"color":"#000"},{"offset":0.629,"color":"#fff"},{"offset":0.632,"color":"#fff"},
{"offset":0.6345,"color":"#000"},{"offset":0.637,"color":"#fff"},{"offset":0.640,"color":"#fff"},
{"offset":0.6425,"color":"#000"},{"offset":0.645,"color":"#fff"},{"offset":0.648,"color":"#fff"},
{"offset":0.6505,"color":"#000"},{"offset":0.653,"color":"#fff"},{"offset":0.656,"color":"#fff"},
{"offset":0.6585,"color":"#000"},{"offset":0.661,"color":"#fff"},{"offset":0.664,"color":"#fff"},
{"offset":0.6665,"color":"#000"},{"offset":0.669,"color":"#fff"},{"offset":0.672,"color":"#fff"},
{"offset":0.6745,"color":"#000"},{"offset":0.677,"color":"#fff"},{"offset":0.680,"color":"#fff"},
{"offset":0.6825,"color":"#000"},{"offset":0.685,"color":"#fff"},{"offset":0.688,"color":"#fff"},
{"offset":0.6905,"color":"#000"},{"offset":0.693,"color":"#fff"},{"offset":0.696,"color":"#fff"},
{"offset":0.6985,"color":"#000"},{"offset":0.701,"color":"#fff"},{"offset":0.704,"color":"#fff"},
{"offset":0.7065,"color":"#000"},{"offset":0.709,"color":"#fff"},{"offset":0.712,"color":"#fff"},
{"offset":0.7145,"color":"#000"},{"offset":0.717,"color":"#fff"},{"offset":0.720,"color":"#fff"},
{"offset":0.7225,"color":"#000"},{"offset":0.725,"color":"#fff"},{"offset":0.728,"color":"#fff"},
{"offset":0.7305,"color":"#000"},{"offset":0.733,"color":"#fff"},{"offset":0.736,"color":"#fff"},
{"offset":0.7385,"color":"#000"},{"offset":0.741,"color":"#fff"},{"offset":0.744,"color":"#fff"},
{"offset":0.7465,"color":"#000"},{"offset":0.749,"color":"#fff"},{"offset":0.752,"color":"#fff"},
{"offset":0.7545,"color":"#000"},{"offset":0.757,"color":"#fff"},{"offset":0.760,"color":"#fff"},
{"offset":0.7625,"color":"#000"},{"offset":0.765,"color":"#fff"},{"offset":0.768,"color":"#fff"},
{"offset":0.7705,"color":"#000"},{"offset":0.773,"color":"#fff"},{"offset":0.776,"color":"#fff"},
{"offset":0.7785,"color":"#000"},{"offset":0.781,"color":"#fff"},{"offset":0.784,"color":"#fff"},
{"offset":0.7865,"color":"#000"},{"offset":0.789,"color":"#fff"},{"offset":0.792,"color":"#fff"},
{"offset":0.7945,"color":"#000"},{"offset":0.797,"color":"#fff"},{"offset":0.800,"color":"#fff"},
{"offset":0.8025,"color":"#000"},{"offset":0.805,"color":"#fff"},{"offset":0.808,"color":"#fff"},
{"offset":0.8105,"color":"#000"},{"offset":0.813,"color":"#fff"},{"offset":0.816,"color":"#fff"},
{"offset":0.8185,"color":"#000"},{"offset":0.821,"color":"#fff"},{"offset":0.824,"color":"#fff"},
{"offset":0.8265,"color":"#000"},{"offset":0.829,"color":"#fff"},{"offset":0.832,"color":"#fff"},
{"offset":0.8345,"color":"#000"},{"offset":0.837,"color":"#fff"},{"offset":0.840,"color":"#fff"},
{"offset":0.8425,"color":"#000"},{"offset":0.845,"color":"#fff"},{"offset":0.848,"color":"#fff"},
{"offset":0.8505,"color":"#000"},{"offset":0.853,"color":"#fff"},{"offset":0.856,"color":"#fff"},
{"offset":0.8585,"color":"#000"},{"offset":0.861,"color":"#fff"},{"offset":0.864,"color":"#fff"},
{"offset":0.8665,"color":"#000"},{"offset":0.869,"color":"#fff"},{"offset":0.872,"color":"#fff"},
{"offset":0.8745,"color":"#000"},{"offset":0.877,"color":"#fff"},{"offset":0.880,"color":"#fff"},
{"offset":0.8825,"color":"#000"},{"offset":0.885,"color":"#fff"},{"offset":0.888,"color":"#fff"},
{"offset":0.8905,"color":"#000"},{"offset":0.893,"color":"#fff"},{"offset":0.896,"color":"#fff"},
{"offset":0.8985,"color":"#000"},{"offset":0.901,"color":"#fff"},{"offset":0.904,"color":"#fff"},
{"offset":0.9065,"color":"#000"},{"offset":0.909,"color":"#fff"},{"offset":0.912,"color":"#fff"},
{"offset":0.9145,"color":"#000"},{"offset":0.917,"color":"#fff"},{"offset":0.920,"color":"#fff"},
{"offset":0.9225,"color":"#000"},{"offset":0.925,"color":"#fff"},{"offset":0.928,"color":"#fff"},
{"offset":0.9305,"color":"#000"},{"offset":0.933,"color":"#fff"},{"offset":0.936,"color":"#fff"},
{"offset":0.9385,"color":"#000"},{"offset":0.941,"color":"#fff"},{"offset":0.944,"color":"#fff"},
{"offset":0.9465,"color":"#000"},{"offset":0.949,"color":"#fff"},{"offset":0.952,"color":"#fff"},
{"offset":0.9545,"color":"#000"},{"offset":0.957,"color":"#fff"},{"offset":0.960,"color":"#fff"},
{"offset":0.9625,"color":"#000"},{"offset":0.965,"color":"#fff"},{"offset":0.968,"color":"#fff"},
{"offset":0.9705,"color":"#000"},{"offset":0.973,"color":"#fff"},{"offset":0.976,"color":"#fff"},
{"offset":0.9785,"color":"#000"},{"offset":0.981,"color":"#fff"},{"offset":0.984,"color":"#fff"},
{"offset":0.9865,"color":"#000"},{"offset":0.989,"color":"#fff"},{"offset":0.992,"color":"#fff"},
{"offset":0.9945,"color":"#000"},{"offset":0.997,"color":"#fff"},{"offset":1,"color":"#fff"}
]}},
     "encoding": {
      "x": {"field": "mjd", "type": "quantitative", "scale": {"domain": [41795.85, 41916.6], "nice": false, "zero": false}, "axis": {"orient": "bottom", "values": [41800,41810,41820,41830,41840,41850,41860,41870,41880,41890,41900,41910], "labelExpr": "datum.value % 50 === 0 ? '' + datum.value : ''", "tickSize": 10, "labelPadding": 3}},
      "y": {"field": "lo", "type": "quantitative", "scale": {"domain": [0, 35], "nice": false}, "axis": {"orient": "left", "values": [10, 20, 30], "labels": false}},
      "y2": {"field": "hi"}
     }
    },
    {
     "data": {"name": "bottom"},
     "mark": {"type": "line", "interpolate": "step-after", "stroke": "black", "strokeWidth": 2.5, "clip": true},
     "encoding": {
      "x": {"field": "mjd", "type": "quantitative", "scale": {"domain": [41795.85, 41916.6], "nice": false, "zero": false}, "axis": null},
      "y": {"field": "lo", "type": "quantitative", "scale": {"domain": [0, 35], "nice": false}, "axis": {"orient": "right", "values": [10, 20, 30], "labels": false}}
     }
    },
    {
     "data": {"name": "bottom"},
     "mark": {"type": "line", "interpolate": "step-after", "stroke": "black", "strokeWidth": 2.5, "clip": true},
     "encoding": {
      "x": {"field": "mjd", "type": "quantitative", "scale": {"domain": [41795.85, 41916.6], "nice": false, "zero": false}, "axis": null},
      "y": {"field": "hi", "type": "quantitative", "scale": {"domain": [0, 35], "nice": false}, "axis": null}
     }
    },
    {
     "data": {"name": "botseg"},
     "mark": {"type": "rule", "stroke": "black", "strokeWidth": 3},
     "encoding": {
      "x": {"field": "mjd", "type": "quantitative", "axis": null},
      "x2": {"field": "mjd2"},
      "y": {"datum": 35, "type": "quantitative", "axis": null}
     }
    },
    {
     "data": {"name": "botmt"},
     "mark": {"type": "rule", "stroke": "black", "strokeWidth": 2.5},
     "encoding": {
      "x": {"field": "mjd", "type": "quantitative", "axis": null},
      "y": {"datum": 35, "type": "quantitative", "axis": null},
      "y2": {"datum": 33.85}
     }
    },
    {
     "data": {"name": "botmon"},
     "mark": {"type": "text", "font": "DejaVu Sans", "fontWeight": "bold", "fontSize": 21, "align": "center", "baseline": "middle", "fill": "black"},
     "encoding": {
      "x": {"field": "mjd", "type": "quantitative", "axis": null},
      "y": {"datum": 35, "type": "quantitative", "axis": null},
      "text": {"field": "m"}
     }
    },
    {
     "data": {"name": "note"},
     "mark": {"type": "text", "font": "DejaVu Sans", "fontWeight": "bold", "fontSize": 23, "align": "center", "baseline": "middle", "fill": "black"},
     "encoding": {
      "x": {"field": "mjd", "type": "quantitative", "axis": null},
      "y": {"field": "v", "type": "quantitative", "axis": null},
      "text": {"field": "t"}
     }
    },
    {
     "data": {"name": "man"},
     "mark": {"type": "text", "font": "DejaVu Sans", "fontWeight": "bold", "fontSize": 19, "align": "center", "baseline": "middle", "angle": 270, "fill": "black"},
     "encoding": {
      "x": {"field": "mjd", "type": "quantitative", "axis": null},
      "y": {"field": "v", "type": "quantitative", "axis": null},
      "text": {"field": "t"}
     }
    }
   ]
  }
 ]
}
